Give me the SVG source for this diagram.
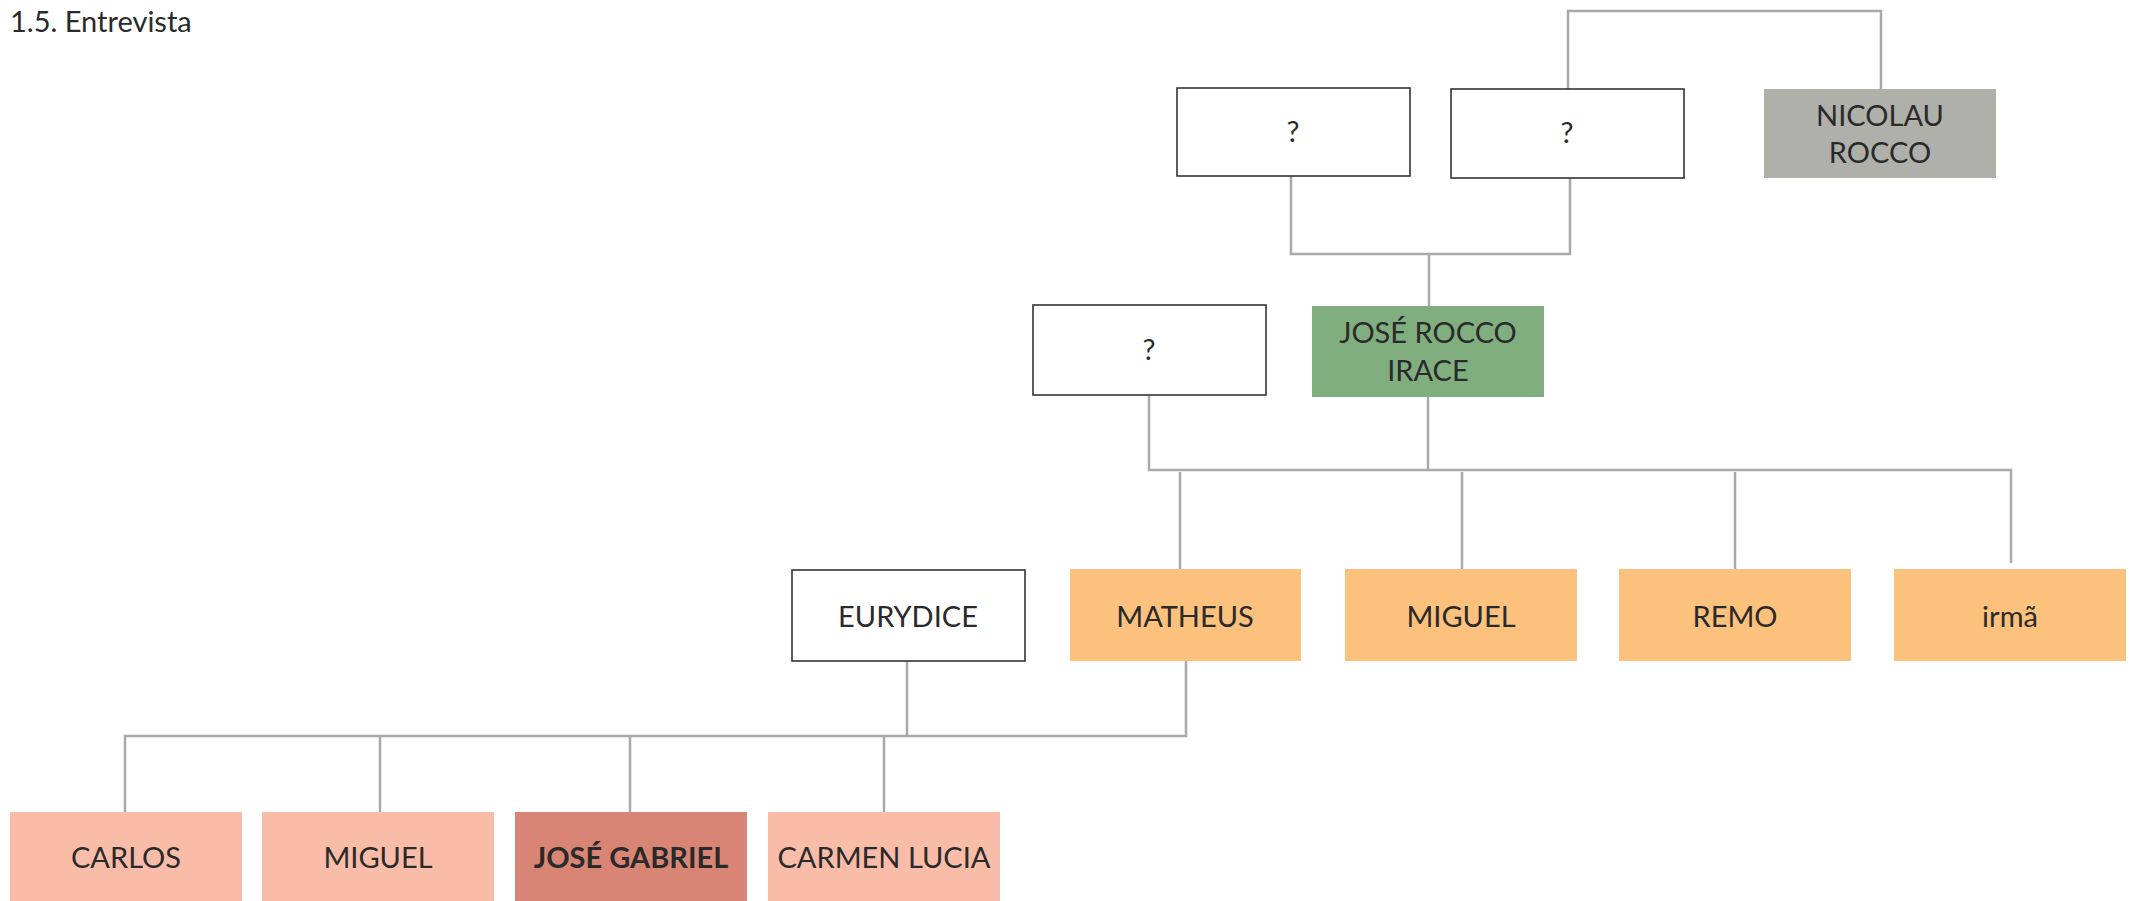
<svg xmlns="http://www.w3.org/2000/svg" width="2130" height="901" viewBox="0 0 2130 901">
<style>
text{font-family:Lato,"Liberation Sans",sans-serif;font-size:29px;fill:#2a2a2a;text-anchor:middle}
.title{text-anchor:start;font-size:29px}
.w{fill:#fff;stroke:#333;stroke-width:1.6}
.g{fill:#b0b0ab}
.gr{fill:#80ae7f}
.o{fill:#fbc17d}
.p{fill:#f8bca9}
.pd{fill:#d98576}
.b{font-weight:bold}
#connectors path{fill:none;stroke:#a9a9a9;stroke-width:2.5}
</style>
<rect width="2130" height="901" fill="#fff"/>
<text class="title" x="10" y="32">1.5. Entrevista</text>
<g id="connectors">
<path d="M1568,89 V11 H1881 V89"/>
<path d="M1291,176 V254 H1570 V178"/>
<path d="M1429,254 V306"/>
<path d="M1149,396 V470 H2011 V563"/>
<path d="M1428,397 V470"/>
<path d="M1180,472 V569"/>
<path d="M1462,472 V569"/>
<path d="M1735,472 V569"/>
<path d="M907,661 V736"/>
<path d="M1186,661 V736 H125 V812"/>
<path d="M380,736 V812"/>
<path d="M630,736 V812"/>
<path d="M884,736 V812"/>
</g>
<g id="unknown1"><rect class="w" x="1177" y="88" width="233" height="88"/><text x="1293" y="142">?</text></g>
<g id="unknown2"><rect class="w" x="1451" y="89" width="233" height="89"/><text x="1567" y="143">?</text></g>
<g id="nicolau"><rect class="g" x="1764" y="89" width="232" height="89"/><text x="1880" y="126">NICOLAU</text><text x="1880" y="163">ROCCO</text></g>
<g id="unknown3"><rect class="w" x="1033" y="305" width="233" height="90"/><text x="1149" y="360">?</text></g>
<g id="jose-rocco"><rect class="gr" x="1312" y="306" width="232" height="91"/><text x="1428" y="343">JOSÉ ROCCO</text><text x="1428" y="381">IRACE</text></g>
<g id="eurydice"><rect class="w" x="792" y="570" width="233" height="91"/><text x="908" y="627">EURYDICE</text></g>
<g id="matheus"><rect class="o" x="1070" y="569" width="231" height="92"/><text x="1185" y="627">MATHEUS</text></g>
<g id="miguel1"><rect class="o" x="1345" y="569" width="232" height="92"/><text x="1461" y="627">MIGUEL</text></g>
<g id="remo"><rect class="o" x="1619" y="569" width="232" height="92"/><text x="1735" y="627">REMO</text></g>
<g id="irma"><rect class="o" x="1894" y="569" width="232" height="92"/><text x="2010" y="627">irmã</text></g>
<g id="carlos"><rect class="p" x="10" y="812" width="232" height="89"/><text x="126" y="868">CARLOS</text></g>
<g id="miguel2"><rect class="p" x="262" y="812" width="232" height="89"/><text x="378" y="868">MIGUEL</text></g>
<g id="jose-gabriel"><rect class="pd" x="515" y="812" width="232" height="89"/><text class="b" x="631" y="868">JOSÉ GABRIEL</text></g>
<g id="carmen-lucia"><rect class="p" x="768" y="812" width="232" height="89"/><text x="884" y="868">CARMEN LUCIA</text></g>
</svg>
